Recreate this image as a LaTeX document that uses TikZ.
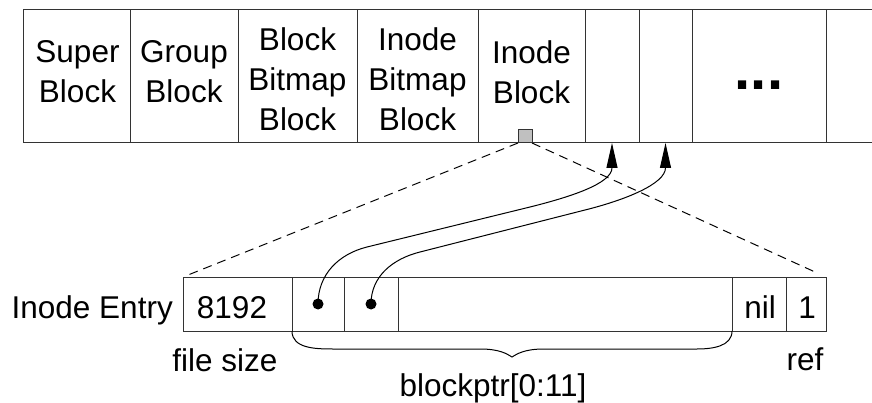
\documentclass[tikz,border=0pt]{standalone}
\usepackage{fontspec}
\setmainfont{Liberation Sans}
\usetikzlibrary{arrows.meta}
\definecolor{frame}{HTML}{333333}
\definecolor{marker}{HTML}{C0C0C0}
\begin{document}
\begin{tikzpicture}[
  x=1pt, y=1pt,
  txt/.style={font=\fontsize{31.5}{40}\selectfont, align=center, inner sep=0pt},
  topcell/.style={draw=frame, line width=1pt, minimum height=133, inner sep=0pt, outer sep=0pt},
  entcell/.style={draw=frame, line width=1pt, minimum height=54, inner sep=0pt, outer sep=0pt},
  dot/.style={circle, fill=black, inner sep=0pt, minimum size=11},
  ptr/.style={line width=1pt, -{Triangle[length=25pt,width=11pt]}},
  zoomline/.style={line width=1pt, dash pattern=on 9pt off 6pt},
  bracepath/.style={line width=1pt}
]
\useasboundingbox (0,0) rectangle (872,402);

% block group layout
\node[topcell, minimum width=107] (c1) at (76.5,325.5) {};
\node[topcell, minimum width=108] (c2) at (184,325.5) {};
\node[topcell, minimum width=119] (c3) at (297.5,325.5) {};
\node[topcell, minimum width=121] (c4) at (417.5,325.5) {};
\node[topcell, minimum width=107] (c5) at (531.5,325.5) {};
\node[topcell, minimum width=54] (c6) at (612,325.5) {};
\node[topcell, minimum width=53] (c7) at (665.5,325.5) {};
\node[topcell, minimum width=134] (c8) at (759,325.5) {};
\coordinate (edgetop) at (872,392);
\coordinate (edgebot) at (872,259);
\draw[frame, line width=1pt] (c8.north east) -- (edgetop);
\draw[frame, line width=1pt] (c8.south east) -- (edgebot);

\node[txt] (t1) at (77.5,330) {Super\\Block};
\node[txt] (t2) at (184,330) {Group\\Block};
\node[txt] (t3) at (297.5,323) {Block\\Bitmap\\Block};
\node[txt] (t4) at (417.5,323) {Inode\\Bitmap\\Block};
\node[txt] (t5) at (531.5,330) {Inode\\Block};
\node[font=\fontsize{58}{58}\selectfont\bfseries, inner sep=0pt, anchor=base] (t8) at (759,312) {...};

% one inode inside the inode block
\node[draw=frame, fill=marker, line width=1pt, minimum width=14, minimum height=13, inner sep=0pt, outer sep=0pt] (sq) at (525,265.5) {};

% inode entry
\node[entcell, minimum width=109] (b1) at (237.5,98) {};
\node[entcell, minimum width=52] (b2) at (318,98) {};
\node[entcell, minimum width=54] (b3) at (371,98) {};
\node[entcell, minimum width=334] (b4) at (565,98) {};
\node[entcell, minimum width=54] (b5) at (759,98) {};
\node[entcell, minimum width=40] (b6) at (806,98) {};

\node[txt, anchor=base east] (lab) at (173,84) {Inode Entry};
\node[txt, anchor=base] (size) at (232,84) {8192};
\node[txt, anchor=base] (nil) at (760,84) {nil};
\node[txt, anchor=base] (refc) at (807,84) {1};
\node[txt, anchor=base] (fs) at (225,31) {file size};
\node[txt, anchor=base] (rf) at (805,32) {ref};
\node[txt, anchor=base] (bp) at (493,6) {blockptr[0:11]};

\node[dot] (d1) at (b2.center) {};
\node[dot] (d2) at (b3.center) {};

% zoom lines from the inode to its entry
\draw[zoomline, shorten >=7pt] (sq.south west) -- (b1.north west);
\draw[zoomline, shorten >=12pt] (sq.south east) -- (b6.north east);

% block pointers
\draw[ptr] (d1.center) to[out=90,in=194] (367,155) -- (530,195) to[out=14,in=-90] (c6.south);
\draw[ptr] (d2.center) to[out=90,in=194] (420,150) -- (585,192) to[out=14,in=-90] (c7.south);

% brace under the pointer fields
\draw[bracepath] (b1.south east) to[out=-90,in=180] (333,53) -- (480,53)
  .. controls (500,53) and (507,48) .. (512,45)
  .. controls (517,48) and (524,53) .. (544,53) -- (697,53)
  to[out=0,in=-90] (b4.south east);
\end{tikzpicture}
\end{document}
